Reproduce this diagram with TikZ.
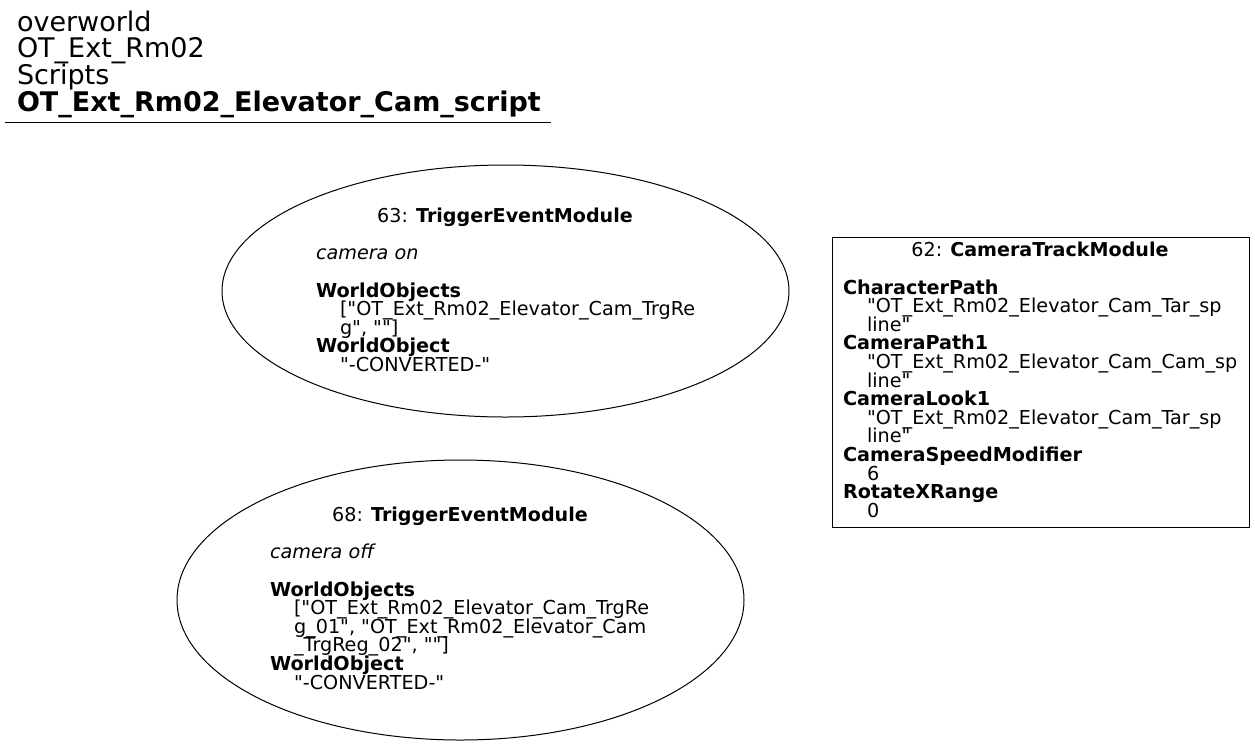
\documentclass[tikz,border=0pt]{standalone}
\usepackage{fontspec}
\setmainfont{DejaVu Sans}
\newfontfamily\djv{DejaVu Sans}
\usetikzlibrary{shapes.geometric}
\begin{document}
\begin{tikzpicture}[x=1pt,y=-1pt,
  every node/.style={inner sep=0pt, outer sep=0pt},
  txt/.style={anchor=base west, font=\djv\fontsize{19.2}{18.6}\selectfont},
  ttl/.style={anchor=base, font=\djv\fontsize{19.1}{18.6}\selectfont},
  hdr/.style={anchor=base west, font=\djv\fontsize{27}{26.6}\selectfont},
  shapeline/.style={draw=black, line width=1pt}]
\useasboundingbox[fill=white] (0,0) rectangle (1255,745);

% header
\node[hdr] (h1) at (17,31.2) {overworld};
\node[hdr] (h2) at (17,57.8) {OT\_Ext\_Rm02};
\node[hdr] (h3) at (17,84.4) {Scripts};
\node[hdr] (h4) at (17,111) {\textbf{OT\_Ext\_Rm02\_Elevator\_Cam\_script}};
\coordinate (ul1) at (5,122);
\coordinate (ul2) at (551,122);
\draw[line width=1pt] (ul1) -- (ul2);

% node 63
\node[shapeline, ellipse, minimum width=567pt, minimum height=252pt] (m63) at (505.5,291) {};
\node[ttl] (m63t) at (505,222.6) {63: \textbf{TriggerEventModule}};
\node[txt] (m63a) at (316,259.8) {\itshape camera on};
\node[txt] (m63b) at (316,297) {\textbf{WorldObjects}};
\node[txt] (m63c) at (340,315.6) {["OT\_Ext\_Rm02\_Elevator\_Cam\_TrgRe};
\node[txt] (m63d) at (340,334.2) {g", ""]};
\node[txt] (m63e) at (316,352.8) {\textbf{WorldObject}};
\node[txt] (m63f) at (340,371.4) {"-CONVERTED-"};

% node 68
\node[shapeline, ellipse, minimum width=567pt, minimum height=280pt] (m68) at (460.5,600) {};
\node[ttl] (m68t) at (460,521.6) {68: \textbf{TriggerEventModule}};
\node[txt] (m68a) at (270,558.8) {\itshape camera off};
\node[txt] (m68b) at (270,596) {\textbf{WorldObjects}};
\node[txt] (m68c) at (294,614.6) {["OT\_Ext\_Rm02\_Elevator\_Cam\_TrgRe};
\node[txt] (m68d) at (294,633.2) {g\_01", "OT\_Ext\_Rm02\_Elevator\_Cam};
\node[txt] (m68e) at (294,651.8) {\_TrgReg\_02", ""]};
\node[txt] (m68f) at (270,670.4) {\textbf{WorldObject}};
\node[txt] (m68g) at (294,689) {"-CONVERTED-"};

% node 62
\node[shapeline, rectangle, minimum width=417pt, minimum height=290pt] (m62) at (1040.5,382) {};
\node[ttl] (m62t) at (1040,256.8) {62: \textbf{CameraTrackModule}};
\node[txt] (m62a) at (843,294) {\textbf{CharacterPath}};
\node[txt] (m62b) at (867,312.6) {"OT\_Ext\_Rm02\_Elevator\_Cam\_Tar\_sp};
\node[txt] (m62c) at (867,331.2) {line"};
\node[txt] (m62d) at (843,349.8) {\textbf{CameraPath1}};
\node[txt] (m62e) at (867,368.4) {"OT\_Ext\_Rm02\_Elevator\_Cam\_Cam\_sp};
\node[txt] (m62f) at (867,387) {line"};
\node[txt] (m62g) at (843,405.6) {\textbf{CameraLook1}};
\node[txt] (m62h) at (867,424.2) {"OT\_Ext\_Rm02\_Elevator\_Cam\_Tar\_sp};
\node[txt] (m62i) at (867,442.8) {line"};
\node[txt] (m62j) at (843,461.4) {\textbf{CameraSpeedModifier}};
\node[txt] (m62k) at (867,480) {6};
\node[txt] (m62l) at (843,498.6) {\textbf{RotateXRange}};
\node[txt] (m62m) at (867,517.2) {0};
\end{tikzpicture}
\end{document}
